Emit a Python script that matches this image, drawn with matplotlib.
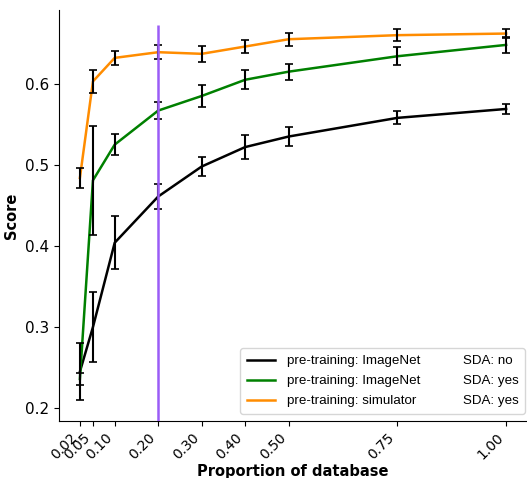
import matplotlib
matplotlib.use('Agg')
import matplotlib.pyplot as plt
from matplotlib.lines import Line2D

# proportion of the database used for training
proportions = [0.02, 0.05, 0.10, 0.20, 0.30, 0.40, 0.50, 0.75, 1.00]
tick_labels = ['0.02', '0.05', '0.10', '0.20', '0.30', '0.40', '0.50', '0.75', '1.00']

# pre-training: ImageNet, SDA: no
imagenet_no = [0.245, 0.300, 0.404, 0.461, 0.498, 0.522, 0.535, 0.558, 0.569]
imagenet_no_err = [0.035, 0.043, 0.033, 0.015, 0.012, 0.015, 0.012, 0.008, 0.006]

# pre-training: ImageNet, SDA: yes
imagenet_yes = [0.236, 0.481, 0.525, 0.567, 0.585, 0.605, 0.615, 0.634, 0.648]
imagenet_yes_err = [0.007, 0.067, 0.013, 0.011, 0.013, 0.012, 0.010, 0.011, 0.010]

# pre-training: simulator, SDA: yes
simulator_yes = [0.484, 0.603, 0.632, 0.639, 0.637, 0.646, 0.655, 0.660, 0.662]
simulator_yes_err = [0.012, 0.014, 0.009, 0.009, 0.010, 0.008, 0.008, 0.007, 0.006]

series = [
    (imagenet_no, imagenet_no_err, 'black', 'pre-training: ImageNet', 'SDA: no'),
    (imagenet_yes, imagenet_yes_err, 'green', 'pre-training: ImageNet', 'SDA: yes'),
    (simulator_yes, simulator_yes_err, 'darkorange', 'pre-training: simulator', 'SDA: yes'),
]

fig = plt.figure(figsize=(5.27, 4.78), dpi=100)
ax = fig.add_axes([0.112, 0.119, 0.888, 0.860])

handles = []
for vals, errs, color, _, _ in series:
    ax.plot(proportions, vals, color=color, linewidth=1.8, zorder=2)
    ax.errorbar(proportions, vals, yerr=errs, fmt='none', ecolor='black',
                elinewidth=1.5, capsize=3, capthick=1.2, zorder=3)
    handles.append(Line2D([], [], color=color, linewidth=1.8))

ax.vlines(0.20, 0.184, 0.673, color='#9b5cf6', linewidth=1.8, zorder=4)

ax.set_xlim(-0.028, 1.048)
ax.set_ylim(0.184, 0.691)
ax.set_xticks(proportions)
ax.set_xticklabels(tick_labels, rotation=45, ha='right', fontsize=10)
ax.set_yticks([0.2, 0.3, 0.4, 0.5, 0.6])
ax.tick_params(axis='y', labelsize=11)
ax.spines['top'].set_visible(False)
ax.spines['right'].set_visible(False)

ax.set_xlabel('Proportion of database', fontsize=10.5, fontweight='bold', labelpad=1)
ax.set_ylabel('Score', fontsize=10.5, fontweight='bold')

# two column legend: second column only carries the SDA text
blank = [Line2D([], [], linestyle='none') for _ in series]
labels = [s[3] for s in series] + [s[4] for s in series]
ax.legend(handles + blank, labels, ncol=2, columnspacing=0.2, loc='lower right',
          bbox_to_anchor=(0.996, 0.017), borderaxespad=0,
          prop={'family': 'Liberation Sans', 'size': 9.6},
          labelspacing=0.58, borderpad=0.5, handlelength=2.1, handletextpad=0.9)

fig.savefig('out.png', dpi=100)
